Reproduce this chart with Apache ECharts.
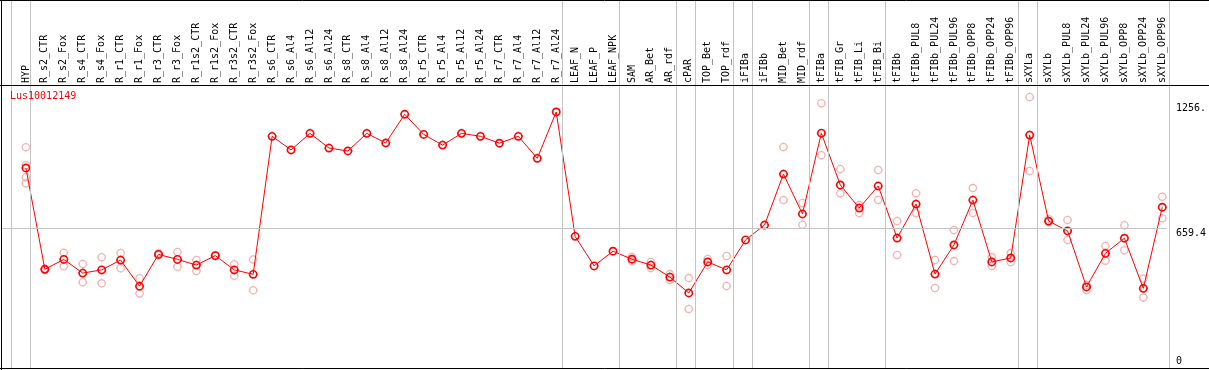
<!DOCTYPE html>
<html>
<head>
<meta charset="utf-8">
<script src="https://cdn.jsdelivr.net/npm/echarts@6/dist/echarts.min.js"></script>
<style>
html,body{margin:0;padding:0;background:#fff;}
#chart{width:1209px;height:370px;}
</style>
</head>
<body>
<div id="chart"></div>
<script>
const geneName = 'Lus10012149';
const categories = ['HYP','R_s2_CTR','R_s2_Fox','R_s4_CTR','R_s4_Fox','R_r1_CTR','R_r1_Fox','R_r3_CTR','R_r3_Fox',
  'R_r1s2_CTR','R_r1s2_Fox','R_r3s2_CTR','R_r3s2_Fox','R_s6_CTR','R_s6_Al4','R_s6_Al12','R_s6_Al24',
  'R_s8_CTR','R_s8_Al4','R_s8_Al12','R_s8_Al24','R_r5_CTR','R_r5_Al4','R_r5_Al12','R_r5_Al24',
  'R_r7_CTR','R_r7_Al4','R_r7_Al12','R_r7_Al24','LEAF_N','LEAF_P','LEAF_NPK','SAM','AR_Bet','AR_rdf',
  'cPAR','TOP_Bet','TOP_rdf','iFIBa','iFIBb','MID_Bet','MID_rdf','tFIBa','tFIB_Gr','tFIB_Li','tFIB_Bi',
  'tFIBb','tFIBb_PUL8','tFIBb_PUL24','tFIBb_PUL96','tFIBb_OPP8','tFIBb_OPP24','tFIBb_OPP96',
  'sXYLa','sXYLb','sXYLb_PUL8','sXYLb_PUL24','sXYLb_PUL96','sXYLb_OPP8','sXYLb_OPP24','sXYLb_OPP96'];
const means = [947,464,511,446,461,508,383,535,511,484,529,461,440,1098,1033,1112,1042,
  1028,1112,1066,1203,1107,1056,1112,1098,1065,1098,993,1214,621,480,550,512,484,427,
  351,499,461,604,675,918,728,1113,866,756,861,
  613,775,441,580,794,499,518,
  1104,694,647,380,540,612,373,760];
const replicates = [[1046,960,903,874],[468,460],[543,478],[489,402],[521,397],[542,469],[421,349],[540,531],[546,476],
  [508,456],[531,527],[488,433],[511,364],[],[],[],[],
  [],[],[],[],[],[],[],[],
  [],[],[],[],[],[],[],[522,502],[499,470],[441,413],
  [422,275],[513,484],[527,384],[],[],[1047,794],[780,676],[1256,1008],[942,827],[770,732],[937,794],
  [694,532],[827,732],[508,375],[651,503],[851,732],[522,480],[541,499],
  [1285,933],[704,690],[699,604],[389,365],[575,505],[674,555],[419,330],[810,707]];
const groupEnds = [-1,0,28,31,34,35,37,38,41,42,45,52,53,60];
const refLineValue = 659.4;
const yTickValues = [0, 659.4, 1256];
const yTickLabels = ['0', '659.4', '1256.'];

const FONT = 'DejaVu Sans Mono';
const XMIN = -1.263, XMAX = 60.245;
const YMIN = -6.7, YMAX = 1337.8;
const SEP_OFFSET = 0.23;
const MARKER = 'path://M0,-5L0,-4M0,4L0,5M-5,0L-4,0M4,0L5,0M4,0A4,4,0,1,1,-4,0A4,4,0,1,1,4,0Z';

const meanData = means.map((v, i) => [i, v]);
const repData = [];
replicates.forEach((arr, i) => arr.forEach(v => repData.push([i, v])));

const labelFor = v => {
  const k = yTickValues.indexOf(v);
  return k >= 0 ? yTickLabels[k] : '';
};

const chart = echarts.init(document.getElementById('chart'), null, {renderer: 'canvas'});
chart.setOption({
  animation: false,
  backgroundColor: '#fff',
  title: {
    text: geneName, left: 10, top: 91, padding: 0,
    textStyle: {color: '#ff0000', fontSize: 10, fontWeight: 'normal', fontFamily: FONT}
  },
  grid: [
    {left: 2, right: 39, top: 86, bottom: 2},
    {left: 2, right: 39, top: 0, bottom: 2}
  ],
  xAxis: [
    {
      type: 'value', gridIndex: 0, position: 'top', min: XMIN, max: XMAX,
      axisLine: {show: false}, axisTick: {show: false}, splitLine: {show: false},
      axisLabel: {
        customValues: categories.map((c, i) => i),
        formatter: v => categories[Math.round(v)] || '',
        rotate: 90, margin: 3, fontSize: 10, fontFamily: FONT, color: '#000'
      }
    },
    {
      type: 'value', gridIndex: 1, min: XMIN, max: XMAX, show: false
    }
  ],
  yAxis: [
    {
      type: 'value', gridIndex: 0, position: 'right', min: YMIN, max: YMAX,
      axisLine: {show: false}, axisTick: {show: false}, splitLine: {show: false},
      axisLabel: {
        customValues: yTickValues.slice(1), formatter: labelFor,
        verticalAlign: 'top', margin: 9, fontSize: 10, fontFamily: FONT, color: '#000'
      }
    },
    {
      type: 'value', gridIndex: 0, position: 'right', min: YMIN, max: YMAX,
      axisLine: {show: false}, axisTick: {show: false}, splitLine: {show: false},
      axisLabel: {
        customValues: yTickValues.slice(0, 1), formatter: labelFor,
        verticalAlign: 'bottom', margin: 9, fontSize: 10, fontFamily: FONT, color: '#000'
      }
    },
    {type: 'value', gridIndex: 1, min: 0, max: 1, show: false}
  ],
  series: [
    {
      type: 'line', xAxisIndex: 1, yAxisIndex: 2, data: [], silent: true,
      markLine: {
        silent: true, symbol: 'none', label: {show: false},
        lineStyle: {color: '#c4c4c4', width: 1, type: 'solid'},
        emphasis: {disabled: true},
        data: groupEnds.map(g => ({xAxis: g + SEP_OFFSET}))
      }
    },
    {
      type: 'scatter', xAxisIndex: 0, yAxisIndex: 0, data: repData, silent: true,
      symbol: MARKER, symbolSize: 9,
      itemStyle: {color: 'rgba(0,0,0,0)', borderColor: '#f0a0a0', borderWidth: 1.3},
      z: 2
    },
    {
      type: 'line', xAxisIndex: 0, yAxisIndex: 0, data: meanData, silent: true,
      symbol: MARKER, symbolSize: 9, showAllSymbol: true,
      itemStyle: {color: 'rgba(0,0,0,0)', borderColor: '#ff0000', borderWidth: 1.6},
      lineStyle: {color: '#ff0000', width: 1},
      z: 3,
      markLine: {
        silent: true, symbol: 'none', label: {show: false},
        lineStyle: {color: '#c4c4c4', width: 1, type: 'solid'},
        emphasis: {disabled: true},
        data: [{yAxis: refLineValue}]
      }
    }
  ],
  graphic: [
    {type: 'line', shape: {x1: 0, y1: 0.5, x2: 1209, y2: 0.5}, style: {stroke: '#000', lineWidth: 1}, z: 100},
    {type: 'line', shape: {x1: 1.5, y1: 0, x2: 1.5, y2: 370}, style: {stroke: '#000', lineWidth: 1}, z: 100},
    {type: 'line', shape: {x1: 0, y1: 85.5, x2: 1209, y2: 85.5}, style: {stroke: '#000', lineWidth: 1}, z: 100},
    {type: 'line', shape: {x1: 0, y1: 368.5, x2: 1209, y2: 368.5}, style: {stroke: '#000', lineWidth: 1}, z: 100}
  ]
});
</script>
</body>
</html>
